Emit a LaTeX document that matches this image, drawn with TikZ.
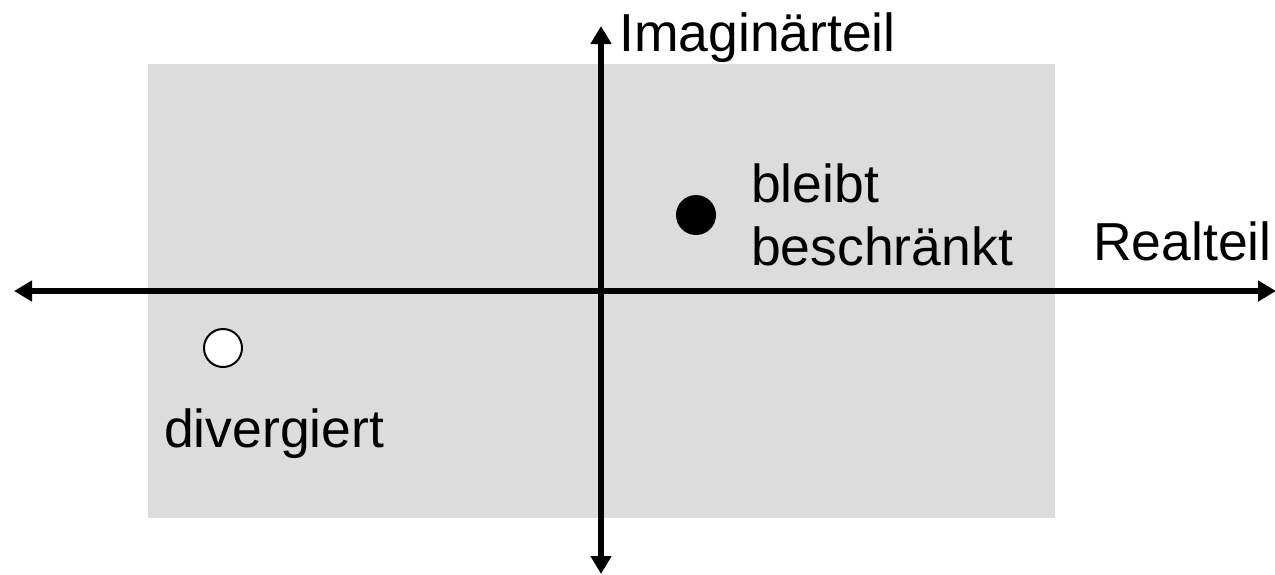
\documentclass[tikz,border=0pt]{standalone}
\usepackage{fontspec}
\setmainfont{Liberation Sans}
\usetikzlibrary{arrows.meta}
\definecolor{panelgray}{RGB}{220,220,220}
\tikzset{
  axis/.style={line width=6.3pt,{Triangle[length=18pt,width=20pt]}-{Triangle[length=18pt,width=20pt]}},
  lbl/.style={anchor=base west,inner sep=0pt,font=\fontsize{53.5}{64}\selectfont},
}
\begin{document}
\begin{tikzpicture}[x=1pt,y=-1pt]
\useasboundingbox (0,0) rectangle (1275,574);
\fill[panelgray] (148,64) rectangle (1055,518);
\coordinate (hl) at (14,291);
\coordinate (hr) at (1276,291);
\coordinate (vt) at (601,26);
\coordinate (vb) at (601,574);
\draw[axis] (hl) -- (hr);
\draw[axis] (vb) -- (vt);
\node[lbl] (im) at (619,51) {Imaginärteil};
\node[lbl] (re) at (1093,260) {Realteil};
\node[lbl] (bl) at (751,202) {bleibt};
\node[lbl] (bs) at (751,265) {beschränkt};
\node[lbl] (dv) at (164,447) {divergiert};
\node[circle,fill=black,minimum size=40pt,inner sep=0pt] (dot) at (696,215) {};
\node[circle,draw=black,line width=2pt,fill=white,minimum size=38pt,inner sep=0pt] (odot) at (223,348) {};
\end{tikzpicture}
\end{document}
